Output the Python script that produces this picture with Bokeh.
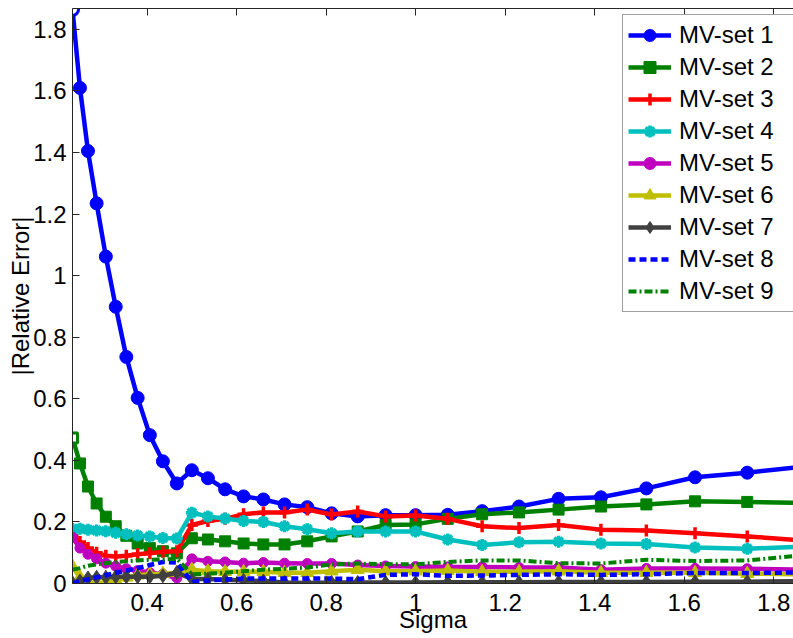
from bokeh.plotting import figure
from bokeh.models import (FixedTicker, CustomJSTickFormatter, LinearAxis, Legend,
                          LegendItem, Range1d, CustomLabelingPolicy)
from bokeh.embed import file_html
from bokeh.resources import INLINE

# ---------------- data ----------------
sigma = [0.2333, 0.2500, 0.2679, 0.2872, 0.3078, 0.3299, 0.3536, 0.3789, 0.4061,
         0.4353, 0.4665, 0.5000, 0.5359, 0.5743, 0.6156, 0.6598, 0.7071, 0.7579,
         0.8123, 0.8706, 0.9330, 1.0000, 1.0718, 1.1487, 1.2311, 1.3195, 1.4142,
         1.5157, 1.6245, 1.7411, 1.8661]

x_ticks = [0.4, 0.6, 0.8, 1.0, 1.2, 1.4, 1.6, 1.8]
y_ticks = [0.0, 0.2, 0.4, 0.6, 0.8, 1.0, 1.2, 1.4, 1.6, 1.8]

series_names = ["MV-set 1", "MV-set 2", "MV-set 3", "MV-set 4", "MV-set 5",
                "MV-set 6", "MV-set 7", "MV-set 8", "MV-set 9"]

mv1 = [1.865, 1.61, 1.405, 1.235, 1.062, 0.899, 0.736, 0.603, 0.482, 0.397, 0.325,
       0.368, 0.342, 0.306, 0.283, 0.273, 0.257, 0.248, 0.228, 0.218, 0.222, 0.222,
       0.223, 0.235, 0.25, 0.275, 0.28, 0.309, 0.345, 0.36, 0.38]
mv2 = [0.473, 0.39, 0.315, 0.26, 0.217, 0.186, 0.155, 0.13, 0.115, 0.105, 0.098,
       0.147, 0.143, 0.137, 0.13, 0.127, 0.127, 0.137, 0.153, 0.169, 0.19, 0.192,
       0.21, 0.225, 0.231, 0.24, 0.25, 0.257, 0.267, 0.265, 0.262]
mv3 = [0.155, 0.135, 0.115, 0.10, 0.09, 0.088, 0.09, 0.095, 0.098, 0.103, 0.105,
       0.19, 0.203, 0.21, 0.225, 0.231, 0.231, 0.24, 0.224, 0.234, 0.218, 0.221,
       0.21, 0.186, 0.18, 0.19, 0.175, 0.172, 0.163, 0.153, 0.14]
mv4 = [0.177, 0.178, 0.175, 0.172, 0.17, 0.165, 0.16, 0.156, 0.153, 0.148, 0.146,
       0.23, 0.218, 0.211, 0.203, 0.2, 0.186, 0.176, 0.163, 0.169, 0.169, 0.169,
       0.143, 0.125, 0.134, 0.136, 0.13, 0.128, 0.117, 0.113, 0.12]
mv5 = [0.15, 0.115, 0.095, 0.08, 0.066, 0.056, 0.048, 0.042, 0.035, 0.03, 0.018,
       0.08, 0.072, 0.07, 0.066, 0.068, 0.066, 0.065, 0.065, 0.06, 0.057, 0.055,
       0.054, 0.054, 0.052, 0.052, 0.045, 0.049, 0.049, 0.048, 0.045]
mv6 = [0.055, 0.02, 0.005, 0.002, 0.003, 0.01, 0.02, 0.027, 0.03, 0.032, 0.035,
       0.045, 0.04, 0.038, 0.038, 0.038, 0.035, 0.035, 0.04, 0.045, 0.04, 0.04,
       0.042, 0.038, 0.038, 0.04, 0.035, 0.035, 0.035, 0.032, 0.03]
mv7 = [0.002, 0.008, 0.018, 0.02, 0.02, 0.022, 0.022, 0.022, 0.022, 0.025, 0.035,
       0.015, 0.015, 0.012, 0.01, 0.008, 0.003, 0.002, 0.003, 0.003, 0.003, 0.003,
       0.004, 0.004, 0.004, 0.005, 0.005, 0.005, 0.006, 0.006, 0.008]
mv8 = [0.0, 0.008, 0.013, 0.02, 0.027, 0.035, 0.042, 0.05, 0.06, 0.07, 0.068,
       0.005, 0.01, 0.013, 0.016, 0.016, 0.016, 0.016, 0.016, 0.014, 0.028, 0.03,
       0.025, 0.026, 0.028, 0.03, 0.028, 0.03, 0.034, 0.034, 0.036]
mv9 = [0.045, 0.05, 0.058, 0.062, 0.066, 0.07, 0.072, 0.075, 0.077, 0.078, 0.08,
       0.03, 0.032, 0.035, 0.04, 0.045, 0.048, 0.052, 0.062, 0.065, 0.063, 0.062,
       0.07, 0.075, 0.075, 0.066, 0.065, 0.077, 0.073, 0.075, 0.092]

values = [mv1, mv2, mv3, mv4, mv5, mv6, mv7, mv8, mv9]

x_label = "Sigma"
y_label = "|Relative Error|"

# ---------------- styles ----------------
colors = ["#0000ff", "#008000", "#ff0000", "#00bfbf", "#bf00bf", "#bfbf00",
          "#404040", "#0000ff", "#008000"]
markers = ["circle", "square", "cross", "asterisk", "circle", "triangle",
           "diamond", None, None]
msizes = [13, 11, 12, 12, 10, 13, 14, 0, 0]
dashes = ["solid"] * 7 + ["7 4", "8 3 2 3"]
widths = [4.5, 4.5, 4.5, 4.5, 4.5, 4.5, 4.5, 4.5, 4.0]
hollow_first = [True, True, False, False, False, False, False, False, False]

FONT = "Liberation Sans"
AXC = "#262626"

p = figure(width=793, height=638,
           x_range=Range1d(0.2333, 1.8445), y_range=Range1d(0, 1.868),
           output_backend="svg", toolbar_location=None, tools="",
           min_border_left=72, min_border_right=0, min_border_top=8,
           min_border_bottom=55)
p.outline_line_color = None
p.grid.visible = False
p.background_fill_color = "white"
p.border_fill_color = "white"

fmt = CustomJSTickFormatter(code="return tick.toFixed(1).replace(/\\.0$/, '');")

for ax in (p.xaxis[0], p.yaxis[0]):
    ax.major_tick_in = 7
    ax.major_tick_out = 0
    ax.minor_tick_line_color = None
    ax.axis_line_color = AXC
    ax.major_tick_line_color = AXC
    ax.major_label_text_font = FONT
    ax.major_label_text_font_size = "24px"
    ax.major_label_text_color = "black"
    ax.axis_label_text_font = FONT
    ax.axis_label_text_font_size = "24px"
    ax.axis_label_text_font_style = "normal"
    ax.axis_label_text_color = "black"
    ax.formatter = fmt

p.xaxis.ticker = FixedTicker(ticks=x_ticks)
p.yaxis.ticker = FixedTicker(ticks=y_ticks)
p.xaxis.axis_label = x_label
p.yaxis.axis_label = y_label
p.xaxis.major_label_standoff = 10
p.xaxis.axis_label_standoff = -8
p.yaxis.major_label_standoff = 6
p.yaxis.axis_label_standoff = -4

# top border with inward ticks, no labels drawn
top_axis = LinearAxis(ticker=FixedTicker(ticks=x_ticks), major_tick_in=7,
                      major_tick_out=0, minor_tick_line_color=None,
                      major_label_text_font_size="2px", major_label_standoff=0,
                      major_label_policy=CustomLabelingPolicy(code="return new Set()"),
                      axis_line_color=AXC, major_tick_line_color=AXC)
p.add_layout(top_axis, "above")

items = []
for i, name in enumerate(series_names):
    ys = values[i]
    rends = []
    lr = p.line(sigma, ys, line_color=colors[i], line_width=widths[i],
                line_dash=dashes[i], line_cap="butt", line_join="round")
    rends.append(lr)
    if markers[i] is not None:
        if markers[i] in ("cross", "asterisk"):
            sr = p.scatter(sigma, ys, marker=markers[i], size=msizes[i],
                           line_color=colors[i], line_width=3.5)
        else:
            sr = p.scatter(sigma, ys, marker=markers[i], size=msizes[i],
                           fill_color=colors[i], line_color=colors[i], line_width=1)
        rends.append(sr)
        if hollow_first[i]:
            p.scatter(sigma[:1], ys[:1], marker=markers[i], size=msizes[i] - 1,
                      fill_color="white", line_color=colors[i], line_width=3)
    items.append(LegendItem(label=name, renderers=rends))

legend = Legend(items=items, location=(550, 271), padding=5, margin=0,
                spacing=2, label_height=30, glyph_height=30, glyph_width=43,
                label_width=130, label_standoff=8,
                label_text_font=FONT, label_text_font_size="24px",
                label_text_color="black",
                border_line_color="#404040", border_line_width=1,
                background_fill_color="white", background_fill_alpha=1.0)
p.add_layout(legend)

open("out.html", "w").write(file_html(p, INLINE))
